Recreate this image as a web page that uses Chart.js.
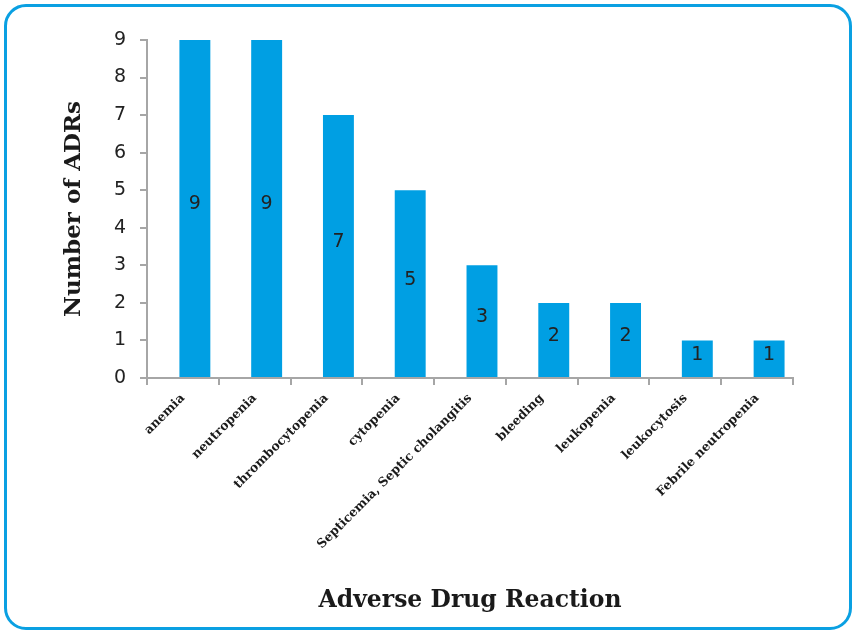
<!DOCTYPE html>
<html>
<head>
<meta charset="utf-8">
<script src="https://cdn.jsdelivr.net/npm/chart.js@4"></script>
<style>
html,body{margin:0;padding:0;background:#fff;}
#wrap{position:relative;width:852px;height:630px;overflow:hidden;}
#frame{position:absolute;left:4px;top:4px;width:842px;height:620px;border:3px solid #0aa0e2;border-radius:22px;}
canvas{position:absolute;left:0;top:0;}
</style>
</head>
<body>
<div id="wrap">
<div id="frame"></div>
<canvas id="adrChart" width="852" height="630"></canvas>
</div>
<script>
/* data */
const reactions=["anemia","neutropenia","thrombocytopenia","cytopenia","Septicemia, Septic cholangitis","bleeding","leukopenia","leukocytosis","Febrile neutropenia"];
const adrCounts=[9,9,7,5,3,2,2,1,1];
const emptySeries=[null,null,null,null,null,null,null,null,null];
const yTicks=[0,1,2,3,4,5,6,7,8,9];

/* value labels inside the bars */
const barLabels={
id:"barLabels",
afterDatasetsDraw(chart){
const c=chart.ctx;
const meta=chart.getDatasetMeta(1);
c.save();
c.font="19px 'DejaVu Sans'";
c.fillStyle="#222";
c.textAlign="center";
c.textBaseline="middle";
meta.data.forEach((bar,i)=>{
c.fillText(String(adrCounts[i]),bar.x,(bar.y+bar.base)/2-4);
});
c.restore();
}
};

const ctx=document.getElementById("adrChart").getContext("2d");

/* Excel left an empty series slot, so bars sit right of the category centre */
new Chart(ctx,{
type:"bar",
data:{
labels:reactions,
datasets:[
{label:"",data:emptySeries,backgroundColor:"rgba(0,0,0,0)",barPercentage:1.29,categoryPercentage:0.668},
{label:"Number of ADRs",data:adrCounts,backgroundColor:"#009fe3",barPercentage:1.29,categoryPercentage:0.668}
]
},
options:{
responsive:false,
animation:false,
layout:{padding:{left:58,right:59,top:40,bottom:15}},
plugins:{legend:{display:false},tooltip:{enabled:false}},
scales:{
x:{
afterFit(s){s.height=237;},
border:{color:"#a6a6a6",width:2},
grid:{offset:true,drawOnChartArea:false,tickLength:7,color:"#a6a6a6",lineWidth:2},
ticks:{minRotation:45,maxRotation:45,autoSkip:false,padding:6,color:"#1a1a1a",font:{family:"'DejaVu Serif'",weight:"bold",size:12.5}},
title:{display:true,text:"Adverse Drug Reaction",color:"#1a1a1a",padding:0,font:{family:"'DejaVu Serif'",weight:"bold",size:23.5}}
},
y:{
min:0,max:9,
afterFit(s){s.width=89;},
afterBuildTicks(s){s.ticks=yTicks.map(v=>({value:v}));},
border:{color:"#a6a6a6",width:2},
grid:{drawOnChartArea:false,tickLength:7,color:"#a6a6a6",lineWidth:2},
ticks:{padding:14,color:"#222",font:{family:"'DejaVu Sans'",size:19}},
title:{display:true,text:"Number of ADRs",color:"#1a1a1a",padding:{top:2,bottom:0},font:{family:"'DejaVu Serif'",weight:"bold",size:23}}
}
}
},
plugins:[barLabels]
});
</script>
</body>
</html>
